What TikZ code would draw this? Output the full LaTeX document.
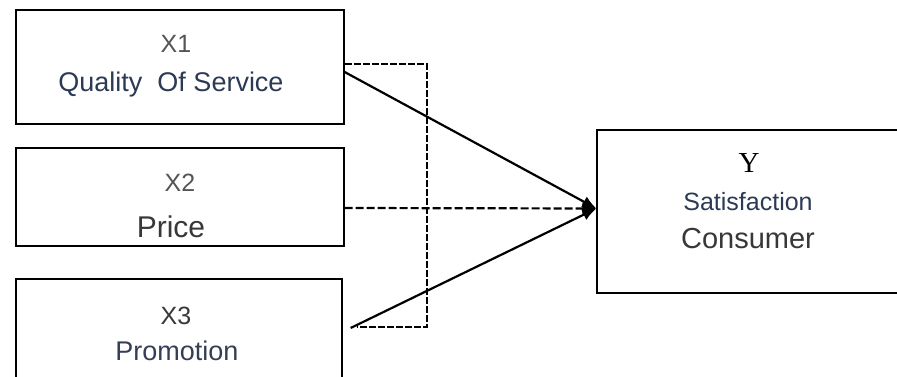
\documentclass[tikz,border=0pt]{standalone}
\usepackage{fontspec}
\setmainfont{Liberation Sans}
\newfontfamily\serifschrift{Liberation Serif}
\usepackage{tikz}
\usetikzlibrary{positioning, calc, arrows.meta}
\definecolor{grau}{HTML}{555555}
\definecolor{dunkelblau}{HTML}{2C3A56}
\definecolor{dunkel}{HTML}{383838}
\tikzset{kasten/.style={rectangle,draw,line width=1.3pt,minimum width=328pt,inner sep=0},
	kennung/.style={anchor=base,text=grau,inner sep=0,font=\fontsize{25}{29}\selectfont},
	titel/.style={anchor=base,inner sep=0,font=\fontsize{27}{32}\selectfont},
	pfeil/.style={line width=2.2pt,-{Latex[length=14pt,width=12pt]}},
	klammer/.style={line width=1.2pt,dash pattern=on 7pt off 2pt} }

\begin{document}
\begin{tikzpicture}[x=1pt,y=-1pt]
  \path[use as bounding box,fill=white] (0,0) rectangle (897,377);
  \clip (0,0) rectangle (897,377);

  % Kaesten
  \node (x1) [kasten, minimum height=114pt] at (180,67) {};
  \node (x2) [kasten, minimum height=98pt] at (180,197) {};
  \node (x3) [kasten, minimum width=326pt, minimum height=114pt] at (179,336) {};
  \node (y) [kasten, minimum width=320pt, minimum height=163pt] at (757,211.5) {};

  % Beschriftungen
  \node (x1k) [kennung] at (176,53) {X1};
  \node (x1t) [titel, text=dunkelblau] at (171,92) {Quality\ \ Of Service};
  \node (x2k) [kennung] at (180,191) {X2};
  \node (x2t) [titel, text=dunkel, font=\fontsize{30}{34}\selectfont] at (171,237) {Price};
  \node (x3k) [kennung, text=dunkel] at (176,324) {X3};
  \node (x3t) [titel, text=dunkelblau!80!grau] at (177,360) {Promotion};
  \node (yk) [anchor=base, inner sep=0, font=\serifschrift\fontsize{29}{34}\selectfont] at (749,172) {Y};
  \node (yt1) [titel, text=dunkelblau, font=\fontsize{25}{30}\selectfont] at (748,210) {Satisfaction};
  \node (yt2) [titel, text=dunkel, font=\fontsize{29}{34}\selectfont] at (748,248) {Consumer};

  \draw[pfeil] ([yshift=-5pt]x1.east) -- ([yshift=3pt]y.west);
  \draw[pfeil, dash pattern=on 8pt off 3pt] ([yshift=-11pt]x2.east) -- ([yshift=3pt]y.west);
  \draw[pfeil] ([xshift=8pt,yshift=8pt]x3.east) -- ([yshift=3pt]y.west);

  \coordinate (k1) at (427,64);
  \coordinate (k2) at (427,327);
  \coordinate (k3) at (357,327);
  \draw[klammer] (x1.east |- k1) -- (k1) -- (k2) -- (k3);
\end{tikzpicture}
\end{document}
